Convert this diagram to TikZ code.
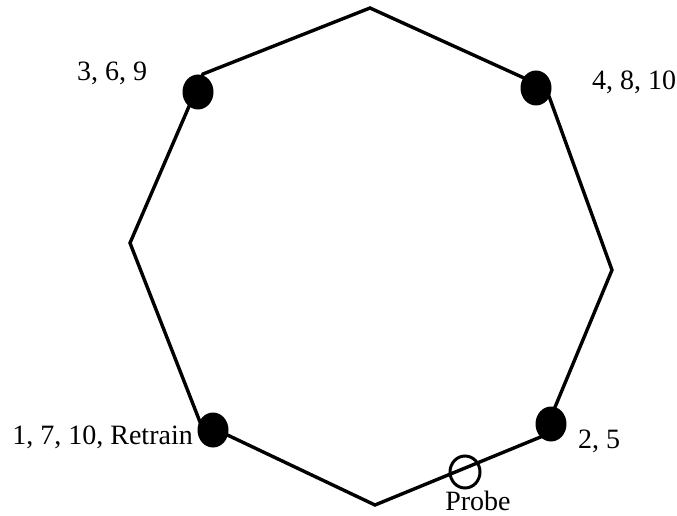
\documentclass[tikz,border=0pt]{standalone}
\usepackage{fontspec}
\setmainfont{Liberation Serif}
\usetikzlibrary{shapes.geometric}
\begin{document}
\begin{tikzpicture}[x=1pt,y=-1pt,
  edge/.style={line width=3.4pt,line join=miter},
  dot/.style={ellipse,fill=black,minimum width=31pt,minimum height=35pt,inner sep=0pt},
  probe/.style={ellipse,draw=black,line width=3pt,minimum width=30pt,minimum height=32pt,inner sep=0pt},
  lab/.style={font=\fontsize{28}{30}\selectfont,inner sep=0pt}]
\useasboundingbox (0,0) rectangle (677,516);
\coordinate (vT) at (370,8);
\coordinate (vTL) at (203,74);
\coordinate (vL) at (130,243);
\coordinate (vBL) at (200,422);
\coordinate (vB) at (375,505);
\coordinate (vBR) at (543,436);
\coordinate (vR) at (612,270);
\coordinate (vTR) at (546,88);
\draw[edge] (vT) -- (vTL) -- (vL) -- (vBL) -- (vB) -- (vBR) -- (vR) -- (vTR) -- cycle;
\node[dot] (dTL) at (198,92) {};
\node[dot] (dTR) at (536,88) {};
\node[dot] (dBL) at (213,430) {};
\node[dot] (dBR) at (551,424) {};
\node[probe] (pr) at (465,472) {};
\node[lab,anchor=base west] (l369) at (77,81) {3, 6, 9};
\node[lab,anchor=base west] (l4810) at (592,90) {4, 8, 10};
\node[lab,anchor=base east] (l1710) at (193,444) {1, 7, 10, Retrain};
\node[lab,anchor=base west] (l25) at (578,448) {2, 5};
\node[lab,anchor=base] (lpr) at (478,510) {Probe};
\end{tikzpicture}
\end{document}
